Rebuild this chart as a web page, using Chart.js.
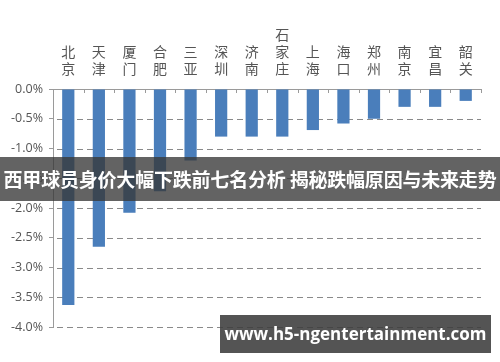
<!DOCTYPE html>
<html>
<head>
<meta charset="utf-8">
<script src="https://cdn.jsdelivr.net/npm/chart.js@4"></script>
<style>
  html, body { margin: 0; padding: 0; background: #fff; }
  #wrap { position: relative; width: 500px; height: 362px; overflow: hidden; }
  #banner {
    position: absolute; left: 0; top: 157px; width: 500px; height: 44px;
    background: rgba(55, 55, 55, 0.78); color: #fff;
    font: bold 19px "Noto Sans CJK SC", sans-serif; line-height: 44px;
    text-align: center; white-space: nowrap; letter-spacing: -0.2px;
  }
  #mark {
    position: absolute; left: 220px; top: 315px; width: 271px; height: 38px;
    background: rgba(60, 60, 60, 0.88); color: #fff;
    font: bold 17px "Open Sans", "DejaVu Sans", sans-serif; line-height: 38px;
    text-align: center; white-space: nowrap;
  }
</style>
</head>
<body>
<div id="wrap">
  <canvas id="chart" width="500" height="362"></canvas>
  <div id="banner">西甲球员身价大幅下跌前七名分析 揭秘跌幅原因与未来走势</div>
  <div id="mark">www.h5-ngentertainment.com</div>
</div>
<script>
const cities = ['北京', '天津', '厦门', '合肥', '三亚', '深圳', '济南', '石家庄', '上海', '海口', '郑州', '南京', '宜昌', '韶关'];
const changes = [-3.63, -2.65, -2.08, -1.72, -1.2, -0.8, -0.8, -0.8, -0.69, -0.58, -0.5, -0.3, -0.3, -0.2];

// dashed horizontal grid, drawn behind the bars
const dashedGrid = {
  id: 'dashedGrid',
  beforeDatasetsDraw(chart) {
    const { ctx, scales: { y }, chartArea } = chart;
    ctx.save();
    ctx.strokeStyle = '#8a8a8a';
    ctx.lineWidth = 1;
    ctx.setLineDash([6, 4]);
    y.ticks.forEach((t) => {
      if (t.value === 0) return;
      const py = Math.round(y.getPixelForValue(t.value)) + 0.5;
      ctx.beginPath();
      ctx.moveTo(chartArea.left + 4, py);
      ctx.lineTo(chartArea.right, py);
      ctx.stroke();
    });
    ctx.restore();
  },
};

// small tick marks under the top axis line, between categories
const topTicks = {
  id: 'topTicks',
  afterDraw(chart) {
    const { ctx, scales: { x }, chartArea } = chart;
    const step = x.getPixelForValue(1) - x.getPixelForValue(0);
    ctx.save();
    ctx.strokeStyle = '#9a9a9a';
    ctx.lineWidth = 1;
    for (let i = 0; i <= cities.length; i++) {
      const px = Math.round(x.getPixelForValue(i) - step / 2) + 0.5;
      ctx.beginPath();
      ctx.moveTo(px, chartArea.top);
      ctx.lineTo(px, chartArea.top + 4);
      ctx.stroke();
    }
    ctx.restore();
  },
};

new Chart(document.getElementById('chart'), {
  type: 'bar',
  data: {
    labels: cities.map((c) => c.split('')),
    datasets: [
      {
        data: changes,
        backgroundColor: '#4a7ebb',
        barPercentage: 0.4,
        categoryPercentage: 1,
      },
    ],
  },
  options: {
    responsive: false,
    animation: false,
    layout: { padding: { top: 0, right: 19, bottom: 35, left: 0 } },
    plugins: { legend: { display: false }, tooltip: { enabled: false } },
    scales: {
      x: {
        position: 'top',
        afterFit: (s) => { s.height = 89; },
        grid: { display: false },
        border: { color: '#9a9a9a' },
        ticks: {
          color: '#555',
          font: { family: 'Noto Sans CJK SC', size: 14 },
          maxRotation: 0,
          padding: 4,
        },
      },
      y: {
        min: -4,
        max: 0,
        afterFit: (s) => { s.width = 53; },
        ticks: {
          stepSize: 0.5,
          color: '#555',
          font: { family: 'Open Sans', size: 12.5 },
          padding: 6,
          callback: (v) => v.toFixed(1) + '%',
        },
        grid: {
          drawOnChartArea: false,
          tickColor: '#9a9a9a',
          tickLength: 4,
        },
        border: { color: '#9a9a9a' },
      },
    },
  },
  plugins: [dashedGrid, topTicks],
});
</script>
</body>
</html>
